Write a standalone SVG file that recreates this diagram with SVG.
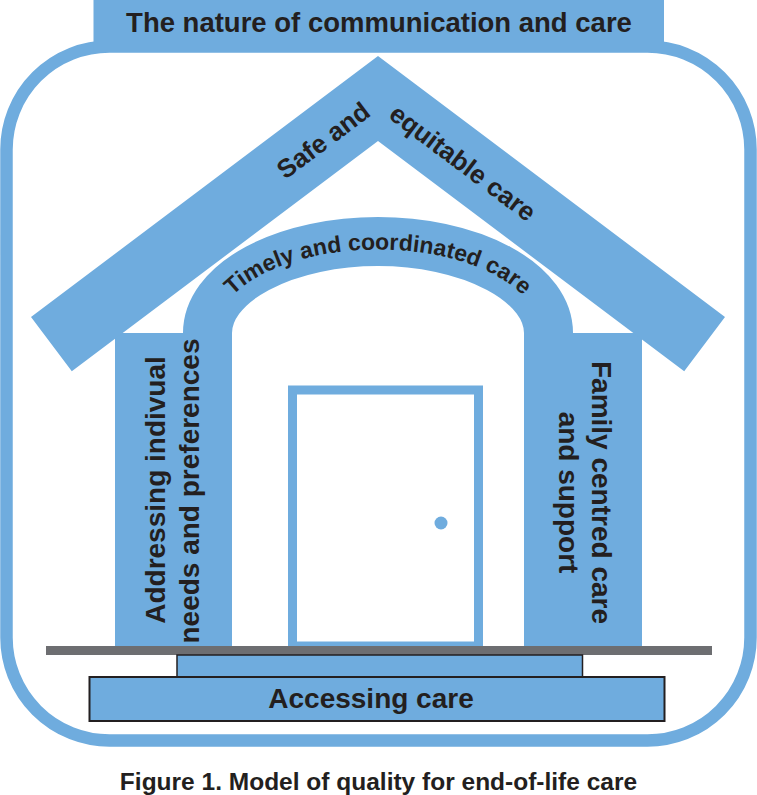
<svg xmlns="http://www.w3.org/2000/svg" width="757" height="795" viewBox="0 0 757 795">
  <style>
    .blue { fill: #6FACDE; }
    .lbl { font-family: "Liberation Sans", Arial, sans-serif; font-weight: bold; fill: #231F20; }
  </style>
  <defs>
    <path id="archText" d="M215.5,333 A162.5,83.5 0 0 1 540.5,333"/>
  </defs>
  <rect x="0" y="0" width="757" height="795" fill="#FFFFFF"/>

  <g id="frame">
    <rect x="6.5" y="46.5" width="744" height="694" rx="103" ry="103" fill="none" stroke="#6FACDE" stroke-width="12.5"/>
  </g>

  <g id="banner">
    <rect class="blue" x="93.5" y="0" width="570.5" height="52"/>
    <text class="lbl" x="379" y="32.3" font-size="27.5" text-anchor="middle">The nature of communication and care</text>
  </g>

  <g id="arch">
    <path d="M207.5,646 V333 A170.5,91.5 0 0 1 548.5,333 V646" fill="none" stroke="#6FACDE" stroke-width="49"/>
    <text class="lbl" font-size="23"><textPath href="#archText" startOffset="50%" text-anchor="middle">Timely and coordinated care</textPath></text>
  </g>

  <g id="left-pillar">
    <rect class="blue" x="115" y="333" width="95" height="313"/>
    <text class="lbl" font-size="28" text-anchor="middle" transform="translate(165,490) rotate(-90)">Addressing indivual</text>
    <text class="lbl" font-size="28" text-anchor="middle" transform="translate(199,491) rotate(-90)">needs and preferences</text>
  </g>

  <g id="right-pillar">
    <rect class="blue" x="546" y="333" width="96" height="313"/>
    <text class="lbl" font-size="28" text-anchor="middle" transform="translate(592,492.5) rotate(90)">Family centred care</text>
    <text class="lbl" font-size="28" text-anchor="middle" transform="translate(559,492.5) rotate(90)">and support</text>
  </g>

  <g id="roof">
    <polygon class="blue" points="378,56 725,317 684.2,371.3 378,141 71.8,371.3 31,317"/>
    <text class="lbl" font-size="26" text-anchor="middle" transform="translate(323,140) rotate(-36.95)" y="9.3">Safe and</text>
    <text class="lbl" font-size="26" text-anchor="middle" transform="translate(463,162.4) rotate(36.95)" y="9.3">equitable care</text>
  </g>

  <g id="door">
    <rect x="292.5" y="390" width="186" height="256" fill="#FFFFFF" stroke="#6FACDE" stroke-width="9"/>
    <circle class="blue" cx="441" cy="523" r="6.5"/>
  </g>

  <g id="ground">
    <rect x="46" y="646" width="666" height="9" fill="#6D6E71"/>
  </g>

  <g id="step-upper">
    <rect class="blue" x="177" y="655" width="405.5" height="22" stroke="#231F20" stroke-width="1.5"/>
  </g>

  <g id="step-lower">
    <rect class="blue" x="89.5" y="677" width="575" height="44" stroke="#231F20" stroke-width="2"/>
    <text class="lbl" x="371" y="708" font-size="28" text-anchor="middle">Accessing care</text>
  </g>

  <g id="caption">
    <text class="lbl" x="378.5" y="790" font-size="24.5" text-anchor="middle">Figure 1. Model of quality for end-of-life care</text>
  </g>

  <g id="connectors"></g>
</svg>
